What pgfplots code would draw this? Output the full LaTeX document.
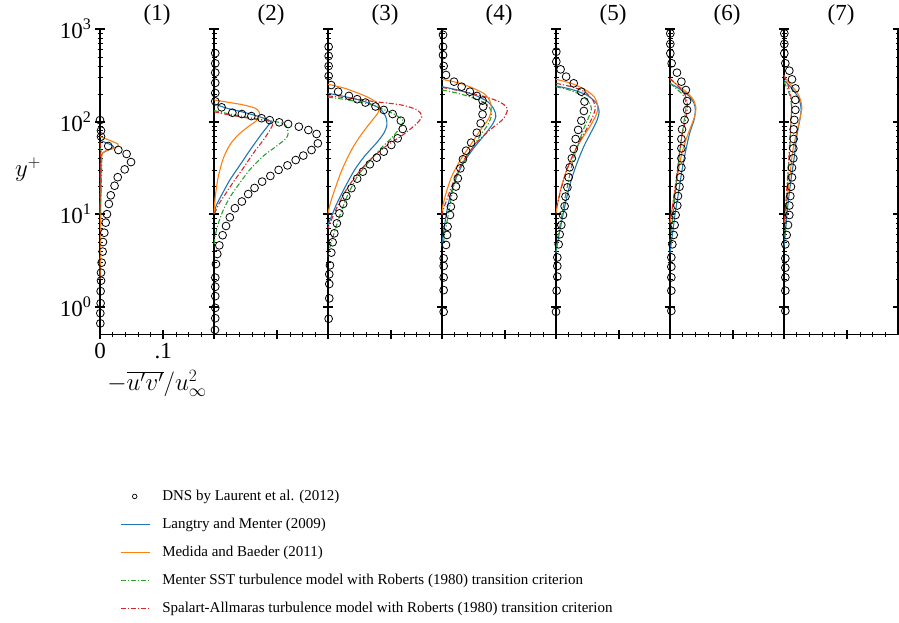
\documentclass[border=0pt]{standalone}
\usepackage{pgfplots}
\pgfplotsset{compat=1.18}
\usepackage{fontspec}
\setmainfont{Liberation Serif}

\definecolor{cLM}{HTML}{1F77B4}
\definecolor{cMB}{HTML}{FF7F0E}
\definecolor{cMR}{HTML}{2CA02C}
\definecolor{cSA}{HTML}{D62728}

\newcommand{\bigfont}{\fontsize{23}{27}\selectfont}

% settings shared by every station axis
\pgfplotsset{
  scale only axis, width=114pt, height=305.3pt,
  xmin=0, xmax=0.18, ymin=0.5, ymax=1000,
  enlargelimits=false, clip=false,
  axis x line=bottom, axis y line=left,
  axis line style={-, line width=1.1pt, black},
  xtick={0,0.1},
  minor xtick={0.02,0.04,0.06,0.08,0.12,0.14,0.16},
  ytick={1,10,100,1000},
  tick align=center,
  major tick length=10pt, minor tick length=5pt,
  every major tick/.append style={line width=1.8pt, black},
  every minor tick/.append style={line width=0.5pt, black},
  xticklabels={}, yticklabels={},
  tick label style={font=\bigfont},
  title style={font=\bigfont, inner sep=0pt, at={(axis description cs:0.5,1)}, anchor=base, yshift=2.5pt},
  dnsplot/.style={only marks, black, mark=o, mark size=3.9pt, mark options={line width=0.8pt}},
  lmplot/.style={no marks, line width=1.1pt, smooth, tension=0.45, color=cLM},
  mbplot/.style={no marks, line width=1.1pt, smooth, tension=0.45, color=cMB},
  mrplot/.style={no marks, line width=1.1pt, smooth, tension=0.45, color=cMR, dash pattern=on 5pt off 2pt on 1.2pt off 2pt},
  saplot/.style={no marks, line width=1.1pt, smooth, tension=0.45, color=cSA, dash pattern=on 5pt off 2pt on 1.2pt off 2pt},
}

\begin{document}
\begin{tikzpicture}
\useasboundingbox (0,0) rectangle (899pt,622pt);

% station (1)
\begin{axis}[ymode=log, at={(100pt,287.5pt)}, anchor=south west, title={(1)},
  xticklabels={0,.1},
  yticklabels={10\textsuperscript{0},10\textsuperscript{1},10\textsuperscript{2},10\textsuperscript{3}},
  xlabel={$-\overline{u'v'}/u_\infty^2$}, ylabel={$y^+$},
  every axis x label/.style={at={(axis description cs:0.5,-0.182)}, anchor=base, inner sep=0pt, font=\bigfont},
  every axis y label/.style={at={(axis description cs:-0.632,0.519)}, anchor=base, inner sep=0pt, font=\bigfont},
  legend style={draw=none, fill=none, at={(axis description cs:0.175,-0.506)}, anchor=north west,
    font=\fontsize{15}{18}\selectfont, inner sep=0pt, row sep=13.5pt, column sep=12pt,
    nodes={inner sep=0pt, text height=11pt, text depth=3.5pt}},
  legend cell align=left]
\addplot[dnsplot, legend image code/.code={\draw[black, line width=0.7pt] (14pt,0pt) circle (2.3pt);}]
  coordinates {(0,104)(0.0016,80)(0.0016,69)(0.013,54.6)(0.029,49.4)(0.042,44.8)(0.049,36.6)(0.039,30.5)(0.028,25.1)(0.023,20.3)(0.017,16.0)(0.014,12.9)(0.011,10.0)(0.009,8.1)(0.0068,6.3)(0.0047,5.0)(0.0042,3.94)(0.0026,2.99)(0.0016,2.33)(0.0016,1.91)(0.001,1.47)(0.001,1.09)(0.0005,0.85)(0.0005,0.66)};
\addlegendentry{DNS by Laurent et al. (2012)}
\addplot[lmplot, legend image code/.code={\draw[cLM, line width=1.1pt] (0pt,0pt) -- (29pt,0pt);}]
  coordinates {(0,63)(0.010,59)(0.020,55)(0.021,52.5)(0.012,49)(0.004,45.7)(0.002,39.8)(0.001,20)(0,10)};
\addlegendentry{Langtry and Menter (2009)}
\addplot[mbplot, legend image code/.code={\draw[cMB, line width=1.1pt] (0pt,0pt) -- (29pt,0pt);}]
  coordinates {(0,69)(0.015,63)(0.028,57.5)(0.029,55)(0.02,51)(0.008,48)(0.003,43.6)(0.002,31.6)(0.0015,15.8)(0.001,6.3)(0,2)};
\addlegendentry{Medida and Baeder (2011)}
\addplot[mrplot, legend image code/.code={\draw[cMR, line width=1.1pt, dash pattern=on 5pt off 2pt on 1.2pt off 2pt] (0pt,0pt) -- (29pt,0pt);}]
  coordinates {(0,52.5)(0.002,46.8)(0.003,39.8)(0.0025,28.2)(0.0015,15.8)(0,10)};
\addlegendentry{Menter SST turbulence model with Roberts (1980) transition criterion}
\addplot[saplot, legend image code/.code={\draw[cSA, line width=1.1pt, dash pattern=on 5pt off 2pt on 1.2pt off 2pt] (0pt,0pt) -- (29pt,0pt);}]
  coordinates {(0,60)(0.001,50)(0.0005,30)(0,10)};
\addlegendentry{Spalart-Allmaras turbulence model with Roberts (1980) transition criterion}
\end{axis}

% station (2)
\begin{axis}[ymode=log, at={(214pt,287.5pt)}, anchor=south west, title={(2)}]
\addplot[dnsplot] coordinates {(0.002,550)(0.002,427)(0.002,339)(0.002,263)(0.002,204)(0.002,166)(0.012,143)(0.029,125)(0.044,121)(0.059,115)(0.075,109)(0.088,104)(0.103,98.4)(0.117,94.4)(0.134,88.3)(0.149,81.3)(0.162,73.6)(0.164,58.3)(0.154,49.4)(0.141,43.0)(0.129,38.5)(0.116,33.7)(0.102,30.1)(0.089,25.9)(0.076,22.5)(0.064,19.2)(0.054,16.5)(0.044,13.7)(0.033,11.6)(0.025,9.25)(0.019,7.45)(0.0136,5.92)(0.0084,4.60)(0.0052,3.71)(0.0031,2.89)(0.002,2.06)(0.002,1.64)(0.002,1.30)(0.002,0.97)(0.002,0.75)(0.0016,0.56)};
\addplot[lmplot] coordinates {(0,156)(0.020,140)(0.046,127)(0.072,113)(0.089,101.6)(0.086,92)(0.072,68.9)(0.057,49.4)(0.041,34)(0.025,23.4)(0.012,16.1)(0.004,12.6)(0,10.2)};
\addplot[mbplot] coordinates {(0,172)(0.025,161)(0.046,152)(0.065,140)(0.071,128)(0.072,115)(0.067,102.5)(0.054,88.3)(0.038,71.8)(0.025,56)(0.0147,40.2)(0.0068,25.5)(0.002,15.5)(0,10.2)};
\addplot[mrplot] coordinates {(0,132)(0.025,121)(0.057,110)(0.088,102.5)(0.109,96)(0.115,86.9)(0.117,74.8)(0.114,66.1)(0.099,54.6)(0.078,42.6)(0.057,30.5)(0.041,21.9)(0.025,15.2)(0.0147,11.1)(0.0068,7.96)(0.0016,5.71)(0,4.5)};
\addplot[saplot] coordinates {(0,128)(0.025,118)(0.057,108.6)(0.086,101.6)(0.093,96)(0.089,82.6)(0.078,63.4)(0.062,45.5)(0.046,31.3)(0.031,22.5)(0.017,16.1)(0.0068,12.6)(0,9.8)};
\end{axis}

% station (3)
\begin{axis}[ymode=log, at={(328pt,287.5pt)}, anchor=south west, title={(3)}]
\addplot[dnsplot] coordinates {(0.001,646)(0.001,513)(0.001,400)(0.001,312)(0.005,249)(0.016,211)(0.033,190)(0.046,175)(0.059,161)(0.075,146)(0.088,134)(0.102,121)(0.115,102.6)(0.118,83.4)(0.110,66.1)(0.100,56)(0.088,47.4)(0.077,40.8)(0.066,34.6)(0.055,28.8)(0.046,24.2)(0.037,19.1)(0.029,15.7)(0.024,12.9)(0.018,10.2)(0.014,7.96)(0.010,6.21)(0.0073,4.97)(0.0052,3.84)(0.0031,2.80)(0.002,2.24)(0.002,1.76)(0.002,1.23)(0.001,0.74)};
\addplot[lmplot] coordinates {(0,203)(0.026,187)(0.058,165)(0.081,140)(0.091,113.5)(0.093,92)(0.088,74.8)(0.076,58.3)(0.058,42.6)(0.042,30.1)(0.026,19.1)(0.013,12.6)(0.0042,9.0)(0,7.64)};
\addplot[mbplot] coordinates {(0,254)(0.026,230)(0.052,198)(0.071,172)(0.080,148)(0.079,125)(0.068,100)(0.052,71.8)(0.037,49.4)(0.022,30.1)(0.0105,18.3)(0.0037,13.1)(0,10.2)};
\addplot[mrplot] coordinates {(0,184)(0.031,172)(0.068,152)(0.100,125)(0.117,106)(0.118,96)(0.111,81.3)(0.100,66.1)(0.085,52.8)(0.068,39.2)(0.047,25.9)(0.030,15.5)(0.018,9.4)(0.0094,6.21)(0.0026,4.28)(0,3.5)};
\addplot[saplot] coordinates {(0,190)(0.037,179)(0.073,165)(0.115,152)(0.141,134)(0.148,113.5)(0.139,93.8)(0.118,71.8)(0.092,54.6)(0.066,38.5)(0.045,26.5)(0.027,17.5)(0.0147,12.05)(0.0052,8.65)(0,7.03)};
\end{axis}

% station (4)
\begin{axis}[ymode=log, at={(442pt,287.5pt)}, anchor=south west, title={(4)}]
\addplot[dnsplot] coordinates {(0.0016,871)(0.0016,646)(0.0016,525)(0.0026,400)(0.0063,320)(0.019,271)(0.031,239)(0.044,211)(0.055,190)(0.064,169)(0.065,146)(0.064,120)(0.061,96)(0.055,76)(0.046,59.3)(0.038,48.6)(0.033,39.2)(0.029,31.3)(0.025,24.4)(0.022,19.9)(0.018,15.5)(0.014,12.05)(0.0126,9.8)(0.0089,7.33)(0.0079,5.96)(0.0063,4.65)(0.0026,3.33)(0.0026,2.75)(0.0026,2.07)(0.0026,1.51)(0.0026,0.88)};
\addplot[lmplot] coordinates {(0,239)(0.025,220)(0.051,195)(0.072,165)(0.082,136)(0.085,115)(0.080,94.4)(0.067,71.8)(0.051,52.8)(0.035,37)(0.023,25.5)(0.014,16.8)(0.0079,11.1)(0.0037,7.33)(0.0005,5.05)(0,4.5)};
\addplot[mbplot] coordinates {(0,287)(0.025,264)(0.046,235)(0.067,200)(0.076,165)(0.078,134)(0.073,106)(0.060,80)(0.045,56)(0.029,38.5)(0.0152,25.5)(0.0063,16.8)(0.001,12.05)(0,10)};
\addplot[mrplot] coordinates {(0,220)(0.025,203)(0.051,179)(0.069,158)(0.077,134)(0.078,115)(0.072,92)(0.061,71.8)(0.050,54.6)(0.038,41.2)(0.026,28.8)(0.017,18.3)(0.0115,11.1)(0.0063,7.33)(0.002,4.84)(0,4.3)};
\addplot[saplot] coordinates {(0,235)(0.035,211)(0.067,187)(0.090,165)(0.101,146)(0.103,130.6)(0.096,106)(0.077,82.6)(0.056,60.8)(0.038,41.9)(0.026,30.1)(0.0152,19.9)(0.0063,13.6)(0.001,10.6)(0,9.8)};
\end{axis}

% station (5)
\begin{axis}[ymode=log, at={(556pt,287.5pt)}, anchor=south west, title={(5)}]
\addplot[dnsplot] coordinates {(0.0005,571)(0.0005,446)(0.0073,368)(0.016,307)(0.028,260)(0.040,211)(0.045,165)(0.044,130.6)(0.040,102.6)(0.035,81.5)(0.031,65)(0.028,50.7)(0.025,40.2)(0.0215,32.1)(0.020,25)(0.018,19.5)(0.015,15.5)(0.0136,12.2)(0.011,9.8)(0.0084,7.64)(0.0058,6.05)(0.0042,4.72)(0.0021,3.41)(0.0021,2.75)(0.0021,2.11)(0.001,1.49)(0,0.88)};
\addplot[lmplot] coordinates {(0,243)(0.024,224)(0.048,195)(0.064,158)(0.068,128.5)(0.065,104.5)(0.056,78.2)(0.045,56)(0.035,38.5)(0.024,23.4)(0.016,14.2)(0.0094,8.65)(0.0042,5.71)(0.0005,4.1)(0,3.8)};
\addplot[mbplot] coordinates {(0,287)(0.024,260)(0.045,224)(0.060,187)(0.066,148)(0.064,121)(0.055,92)(0.043,68.9)(0.029,47.4)(0.018,31.3)(0.0084,19.9)(0.0031,13.6)(0,10.2)};
\addplot[mrplot] coordinates {(0,239)(0.024,217)(0.043,187)(0.053,158)(0.056,136)(0.052,113.5)(0.043,81.5)(0.035,56)(0.027,38.5)(0.020,23.4)(0.0136,14.2)(0.0079,8.65)(0.0031,5.71)(0.0005,4.1)(0,3.8)};
\addplot[saplot] coordinates {(0,260)(0.024,239)(0.045,211)(0.058,172)(0.062,140)(0.058,113.5)(0.049,84.7)(0.037,60.8)(0.027,43.6)(0.016,28.8)(0.0084,19.1)(0.0031,13.6)(0,11.1)};
\end{axis}

% station (6)
\begin{axis}[ymode=log, at={(670pt,287.5pt)}, anchor=south west, title={(6)}]
\addplot[dnsplot] coordinates {(0.0005,900)(0.0005,692)(0.0005,548)(0.0026,428)(0.011,339)(0.018,271)(0.025,220)(0.027,167)(0.027,134)(0.023,104.5)(0.019,82.6)(0.018,65)(0.018,51.5)(0.018,40.2)(0.018,31.8)(0.016,25)(0.015,19.8)(0.0126,15.7)(0.0115,12.4)(0.0089,9.8)(0.0073,7.64)(0.0058,5.96)(0.0037,4.72)(0.0021,3.41)(0.0021,2.70)(0.0021,2.07)(0.0021,1.49)(0.0021,0.90)};
\addplot[lmplot] coordinates {(0,260)(0.018,220)(0.031,187)(0.038,158)(0.040,134)(0.038,104.5)(0.031,75)(0.025,49.4)(0.019,30.1)(0.0142,18.3)(0.0089,11.1)(0.0047,6.75)(0.0005,4.1)(0,3.8)};
\addplot[mbplot] coordinates {(0,287)(0.015,239)(0.028,203)(0.037,172)(0.041,140)(0.039,115)(0.034,92)(0.026,66.1)(0.018,43.6)(0.0126,27.7)(0.0073,16.8)(0.0031,11.1)(0,8)};
\addplot[mrplot] coordinates {(0,260)(0.0126,220)(0.0215,190)(0.025,165)(0.025,134)(0.022,100)(0.019,71.9)(0.015,45.5)(0.0115,27.7)(0.0079,15.5)(0.0037,8.65)(0.0005,5.71)(0,5)};
\addplot[saplot] coordinates {(0,294)(0.0126,243)(0.023,200)(0.027,165)(0.027,134)(0.024,100)(0.019,71.9)(0.015,45.5)(0.011,27.7)(0.0068,16.8)(0.0031,11.1)(0,8)};
\end{axis}

% station (7); its right edge is the wall line of the next station
\begin{axis}[ymode=log, at={(784pt,287.5pt)}, anchor=south west, title={(7)}, axis y line=box]
\addplot[dnsplot] coordinates {(0.0005,900)(0.0005,692)(0.0005,548)(0.0021,428)(0.0084,356)(0.0126,287)(0.018,229)(0.018,172)(0.018,134)(0.0163,104.5)(0.0152,82.6)(0.0152,65)(0.0147,51.5)(0.0147,40.2)(0.0126,31.8)(0.0126,25)(0.011,19.8)(0.010,15.7)(0.0084,12.4)(0.0084,9.8)(0.0063,7.64)(0.0042,5.96)(0.0021,4.72)(0.0021,3.33)(0.0021,2.64)(0.0021,2.07)(0.0021,1.49)(0.0021,0.90)};
\addplot[lmplot] coordinates {(0,282)(0.010,239)(0.019,200)(0.025,165)(0.027,134)(0.025,104.5)(0.020,68.9)(0.0163,41.9)(0.011,23.4)(0.0058,12.05)(0.0021,6.21)(0,4.46)};
\addplot[mbplot] coordinates {(0,307)(0.011,249)(0.0215,203)(0.026,172)(0.0283,140)(0.024,100)(0.019,71.9)(0.0136,47.4)(0.0094,26.5)(0.0058,16.1)(0.0031,10.6)(0,8)};
\addplot[mrplot] coordinates {(0,269)(0.005,229)(0.009,195)(0.011,166)(0.012,135)(0.011,100)(0.010,69.2)(0.0085,43.6)(0.0065,27.5)(0.0045,15.5)(0.002,8.7)(0,5.75)};
\addplot[saplot] coordinates {(0,320)(0.006,251)(0.010,200)(0.012,166)(0.012,135)(0.011,100)(0.0095,69.2)(0.008,43.6)(0.006,27.5)(0.004,17)(0.002,11.2)(0,8.3)};
\end{axis}
\end{tikzpicture}
\end{document}
